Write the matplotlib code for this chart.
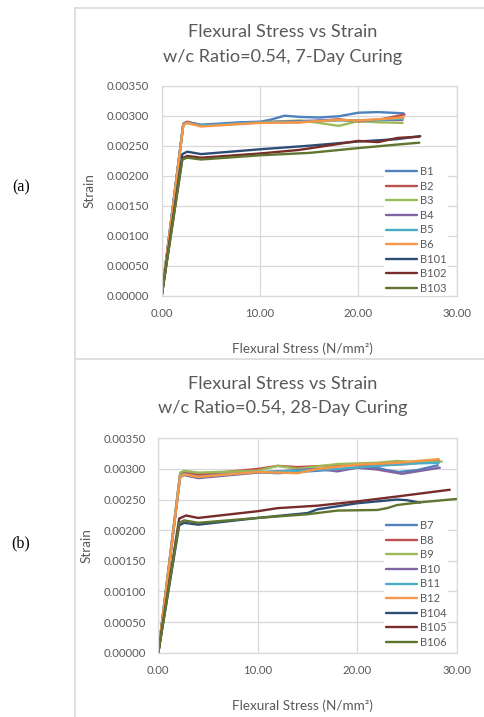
import matplotlib
matplotlib.use("Agg")
import matplotlib.pyplot as plt
from matplotlib.lines import Line2D

W, H = 485, 717

# ---- data (a): 7-day curing ----
names_a = ["B1", "B2", "B3", "B4", "B5", "B6", "B101", "B102", "B103"]
b1_x = [0, 2.2, 2.6, 4, 8, 10, 11, 12.5, 14, 16, 18, 20, 22, 24.6]
b1_y = [0, 0.00286, 0.00289, 0.00285, 0.00289, 0.00290, 0.00293, 0.00300, 0.00298, 0.00297, 0.00299, 0.00305, 0.00306, 0.00304]
b2_x = [0, 2.2, 2.6, 4, 8, 10, 14, 18, 20, 22, 24.7]
b2_y = [0, 0.00287, 0.00290, 0.00284, 0.00287, 0.00289, 0.00289, 0.00294, 0.00290, 0.00293, 0.00302]
b3_x = [0, 2.2, 2.6, 4, 8, 10, 14, 16, 18, 20, 22, 24.5]
b3_y = [0, 0.00286, 0.00288, 0.00283, 0.00287, 0.00289, 0.00292, 0.00288, 0.00283, 0.00291, 0.00289, 0.00288]
b4_x = [0, 2.2, 2.6, 4, 8, 10, 14, 18, 20, 22, 24.5]
b4_y = [0, 0.00286, 0.00289, 0.00284, 0.00287, 0.00289, 0.00291, 0.00293, 0.00292, 0.00293, 0.00293]
b5_x = [0, 2.2, 2.6, 4, 8, 10, 14, 18, 22, 24.5]
b5_y = [0, 0.00286, 0.00288, 0.00284, 0.00287, 0.00289, 0.00290, 0.00292, 0.00293, 0.00295]
b6_x = [0, 2.2, 2.6, 4, 8, 10, 14, 18, 20, 22, 24.6]
b6_y = [0, 0.00285, 0.00288, 0.00282, 0.00286, 0.00288, 0.00289, 0.00293, 0.00292, 0.00294, 0.00297]
b101_x = [0, 2.1, 2.6, 4, 10, 15, 20, 24, 26.3]
b101_y = [0, 0.00236, 0.00240, 0.00236, 0.00244, 0.00250, 0.00257, 0.00261, 0.00266]
b102_x = [0, 2.1, 2.6, 4, 10, 14, 18, 20, 22, 24, 26.2]
b102_y = [0, 0.00229, 0.00233, 0.00230, 0.00237, 0.00243, 0.00253, 0.00258, 0.00256, 0.00263, 0.00265]
b103_x = [0, 2.1, 2.6, 4, 10, 15, 20, 24, 26.2]
b103_y = [0, 0.00227, 0.00230, 0.00227, 0.00234, 0.00238, 0.00246, 0.00252, 0.00255]
xs_a = [b1_x, b2_x, b3_x, b4_x, b5_x, b6_x, b101_x, b102_x, b103_x]
ys_a = [b1_y, b2_y, b3_y, b4_y, b5_y, b6_y, b101_y, b102_y, b103_y]

# ---- data (b): 28-day curing ----
names_b = ["B7", "B8", "B9", "B10", "B11", "B12", "B104", "B105", "B106"]
b7_x = [0, 2.2, 2.6, 4, 10, 12, 16, 20, 22, 23, 24.2, 26, 28.1]
b7_y = [0, 0.00290, 0.00293, 0.00288, 0.00295, 0.00293, 0.00297, 0.00302, 0.00302, 0.00298, 0.00295, 0.00298, 0.00306]
b8_x = [0, 2.2, 2.6, 4, 10, 12, 14, 18, 22, 25, 28.2]
b8_y = [0, 0.00292, 0.00295, 0.00291, 0.00300, 0.00305, 0.00303, 0.00306, 0.00306, 0.00308, 0.00314]
b9_x = [0, 2.2, 2.6, 4, 10, 12, 14, 18, 22, 24, 26, 28.5]
b9_y = [0, 0.00294, 0.00297, 0.00294, 0.00297, 0.00305, 0.00300, 0.00308, 0.00310, 0.00313, 0.00311, 0.00312]
b10_x = [0, 2.2, 2.6, 4, 10, 16, 18, 20, 22, 24.5, 28.3]
b10_y = [0, 0.00287, 0.00290, 0.00285, 0.00294, 0.00300, 0.00296, 0.00302, 0.00299, 0.00292, 0.00302]
b11_x = [0, 2.2, 2.6, 4, 10, 14, 18, 22, 26, 28.2]
b11_y = [0, 0.00289, 0.00292, 0.00287, 0.00295, 0.00297, 0.00300, 0.00305, 0.00309, 0.00310]
b12_x = [0, 2.2, 2.6, 4, 10, 14, 16, 20, 24, 28.2]
b12_y = [0, 0.00288, 0.00291, 0.00287, 0.00295, 0.00293, 0.00300, 0.00307, 0.00310, 0.00316]
b104_x = [0, 2.1, 2.6, 4, 10, 15, 16, 20, 24, 25, 26.3]
b104_y = [0, 0.00208, 0.00212, 0.00209, 0.00220, 0.00228, 0.00234, 0.00244, 0.00250, 0.00249, 0.00245]
b105_x = [0, 2.1, 2.8, 4, 10, 12, 16, 20, 24, 29.3]
b105_y = [0, 0.00219, 0.00224, 0.00220, 0.00231, 0.00236, 0.00240, 0.00247, 0.00255, 0.00266]
b106_x = [0, 2.1, 2.6, 4, 10, 15, 18, 22, 23, 24, 26, 30]
b106_y = [0, 0.00212, 0.00216, 0.00212, 0.00220, 0.00226, 0.00232, 0.00233, 0.00236, 0.00241, 0.00245, 0.00251]
xs_b = [b7_x, b8_x, b9_x, b10_x, b11_x, b12_x, b104_x, b105_x, b106_x]
ys_b = [b7_y, b8_y, b9_y, b10_y, b11_y, b12_y, b104_y, b105_y, b106_y]

colors = ["#4F81BD", "#C0504D", "#9BBB59", "#8064A2", "#4BACC6", "#F79646",
          "#2C4D75", "#772C2A", "#5F7530"]
yticks = [0, 0.0005, 0.001, 0.0015, 0.002, 0.0025, 0.003, 0.0035]
xticks = [0, 10, 20, 30]

GRAY = "#595959"
GRID = "#D9D9D9"
FONT = "Lato"

fig = plt.figure(figsize=(W / 100, H / 100), dpi=100)


def px_axes(left, top, right, bottom):
    return fig.add_axes([left / W, 1 - bottom / H, (right - left) / W, (bottom - top) / H])


def draw_panel(box, title, names, xs, ys, title_y, xlabel_y, leg_top):
    ax = px_axes(*box)
    for nm, x, y, c in zip(names, xs, ys, colors):
        ax.plot(x, y, color=c, lw=1.7, label=nm, solid_capstyle="round", solid_joinstyle="round")
    ax.set_xlim(0, 30)
    ax.set_ylim(0, 0.0035)
    ax.set_xticks(xticks)
    ax.set_yticks(yticks)
    ax.set_xticklabels([f"{t:.2f}" for t in xticks])
    ax.set_yticklabels([f"{t:.5f}" for t in yticks])
    ax.tick_params(length=0, labelsize=8.2, labelcolor=GRAY, pad=9)
    for lab in ax.get_xticklabels() + ax.get_yticklabels():
        lab.set_family(FONT)
    ax.grid(True, color=GRID, lw=0.9)
    ax.set_axisbelow(True)
    for s in ax.spines.values():
        s.set_color(GRID)
        s.set_linewidth(0.9)
    ax.set_ylabel("Strain", fontsize=9.7, color=GRAY, family=FONT, labelpad=8)
    fig.text(283 / W, 1 - title_y / H, title, ha="center", va="center",
             fontsize=13.1, color=GRAY, family=FONT, linespacing=1.65)
    fig.text(302 / W, 1 - xlabel_y / H, "Flexural Stress (N/mm²)", ha="center",
             va="center", fontsize=9.7, color=GRAY, family=FONT)
    leg = ax.legend(loc="upper left", bbox_to_anchor=((384 - box[0]) / (box[2] - box[0]),
                    (box[3] - leg_top) / (box[3] - box[1])),
                    frameon=True, fancybox=False, edgecolor="none", facecolor="white",
                    framealpha=1, prop={"family": FONT, "size": 8}, handlelength=2.8,
                    handletextpad=0.2, labelspacing=0.32, borderpad=0.2, borderaxespad=0)
    for t in leg.get_texts():
        t.set_color(GRAY)
    return ax


draw_panel((161.7, 85.7, 456.7, 295.7), "Flexural Stress vs Strain\nw/c Ratio=0.54, 7-Day Curing",
           names_a, xs_a, ys_a, 44.5, 349, 164)
draw_panel((158.3, 438.3, 456.7, 652.7), "Flexural Stress vs Strain\nw/c Ratio=0.54, 28-Day Curing",
           names_b, xs_b, ys_b, 396, 706, 518)

# table borders around the chart cells
for coords in [([75, 485], [8.3, 8.3]), ([75, 485], [359.3, 359.3]), ([75, 75], [8.3, 717])]:
    fig.add_artist(Line2D([c / W for c in coords[0]], [1 - c / H for c in coords[1]],
                          color=GRID, lw=1.2))

fig.text(21 / W, 1 - 187 / H, "(a)", ha="center", va="center", fontsize=11.5,
         family="Liberation Serif", color="black")
fig.text(21 / W, 1 - 543 / H, "(b)", ha="center", va="center", fontsize=11.5,
         family="Liberation Serif", color="black")

fig.savefig("out.png", dpi=100)
